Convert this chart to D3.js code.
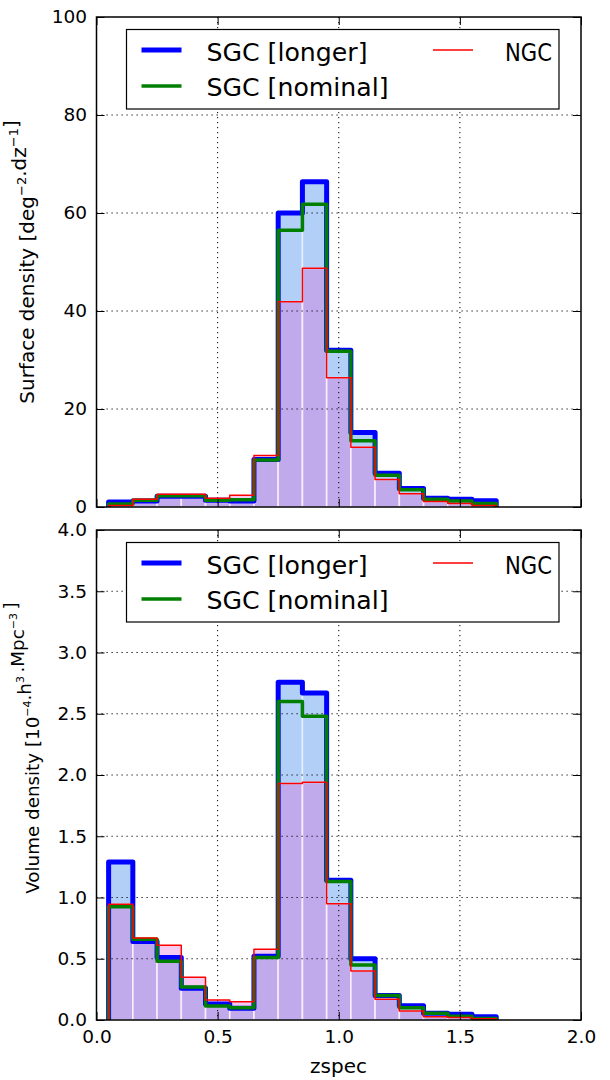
<!DOCTYPE html>
<html><head><meta charset="utf-8">
<script src="https://cdn.jsdelivr.net/npm/d3@7"></script>
<style>
body{margin:0;background:#fff}
svg{display:block}
text{font-family:"DejaVu Sans",sans-serif;fill:#000}
</style>
</head><body>
<svg id="c" width="610" height="1080"></svg>
<script>
// ---- data ----
const binEdges = [0.05,0.15,0.25,0.35,0.45,0.55,0.65,0.75,0.85,0.95,1.05,1.15,1.25,1.35,1.45,1.55,1.65];
const seriesNames = ["SGC [longer]","SGC [nominal]","NGC"];
const surfLonger  = [1.0,1.2,2.2,2.2,1.4,1.2,9.7,60.0,66.4,32.0,15.2,6.9,3.8,1.8,1.6,1.3];
const surfNominal = [0.6,1.4,2.3,2.3,1.4,1.5,9.6,56.5,61.8,31.8,13.5,6.5,3.5,1.6,1.2,0.7];
const surfNGC     = [0.3,1.6,2.6,2.6,1.8,2.4,10.5,41.9,48.7,26.4,12.2,5.6,2.7,1.1,0.7,0.3];
const volLonger   = [1.29,0.64,0.51,0.26,0.13,0.095,0.52,2.757,2.67,1.14,0.50,0.20,0.117,0.055,0.046,0.027];
const volNominal  = [0.925,0.66,0.48,0.27,0.115,0.10,0.51,2.60,2.48,1.13,0.45,0.20,0.10,0.055,0.03,0.012];
const volNGC      = [0.944,0.67,0.61,0.35,0.163,0.15,0.577,1.93,1.94,0.95,0.40,0.17,0.073,0.027,0.02,0.01];
const xTicks = [0,0.5,1.0,1.5,2.0];
const yTicksTop = [0,20,40,60,80,100];
const yTicksBot = [0,0.5,1.0,1.5,2.0,2.5,3.0,3.5,4.0];

const svg = d3.select("#c");
const X0 = 96.5, X1 = 581;
const x = d3.scaleLinear([0,2],[X0,X1]);

const colors = {longer:"#0000ff", nominal:"#007f00", ngc:"#ff0000"};

function panel(cfg){
  const y = d3.scaleLinear(cfg.ydom,[cfg.bottom,cfg.top]);
  const g = svg.append("g");
  const bins = binEdges.slice(0,-1).map((e,i)=>({x0:e,x1:binEdges[i+1],i}));
  // fills
  function fillHist(vals, color){
    g.append("g").selectAll("rect").data(bins).join("rect")
      .attr("x",d=>x(d.x0)).attr("width",d=>x(d.x1)-x(d.x0))
      .attr("y",d=>y(vals[d.i])).attr("height",d=>y(0)-y(vals[d.i]))
      .attr("fill",color)
      .attr("stroke","rgba(255,255,255,0.55)").attr("stroke-width",1.6);
  }
  fillHist(cfg.longer,"#b2cff7");
  fillHist(cfg.ngc,"rgba(222,95,212,0.33)");
  // grid
  const gg = g.append("g").attr("stroke","#000").attr("stroke-width",1).attr("stroke-dasharray","1.2,3.8");
  xTicks.slice(1,-1).forEach(t=>gg.append("line").attr("x1",x(t)).attr("x2",x(t)).attr("y1",cfg.top).attr("y2",cfg.bottom));
  cfg.yticks.slice(1,-1).forEach(t=>gg.append("line").attr("x1",X0).attr("x2",X1).attr("y1",y(t)).attr("y2",y(t)));
  // step lines
  function step(vals,color,w){
    const pts=[[x(binEdges[0]),y(0)]];
    vals.forEach((v,i)=>{pts.push([x(binEdges[i]),y(v)]);pts.push([x(binEdges[i+1]),y(v)]);});
    pts.push([x(binEdges[binEdges.length-1]),y(0)]);
    g.append("path").attr("d",d3.line()(pts)).attr("fill","none")
      .attr("stroke",color).attr("stroke-width",w).attr("stroke-linejoin","round").attr("stroke-linecap","butt");
  }
  step(cfg.longer,colors.longer,5);
  step(cfg.nominal,colors.nominal,3.5);
  step(cfg.ngc,colors.ngc,1.5);
  // axes with inward ticks
  const fmtX = d3.format(".1f");
  g.append("g").attr("transform",`translate(0,${cfg.bottom})`)
    .call(d3.axisBottom(x).tickValues(xTicks).tickSize(-8).tickPadding(10).tickFormat(cfg.showX?fmtX:""))
    .call(a=>{a.select(".domain").remove();a.selectAll("text").attr("font-size",18.5).attr("font-family","DejaVu Sans").attr("fill","#000");});
  g.append("g").attr("transform",`translate(0,${cfg.top})`)
    .call(d3.axisTop(x).tickValues(xTicks).tickSize(-8).tickFormat(""))
    .call(a=>a.select(".domain").remove());
  g.append("g").attr("transform",`translate(${X0},0)`)
    .call(d3.axisLeft(y).tickValues(cfg.yticks).tickSize(-8).tickPadding(9.5).tickFormat(cfg.fmtY))
    .call(a=>{a.select(".domain").remove();a.selectAll("text").attr("font-size",18.5).attr("font-family","DejaVu Sans").attr("fill","#000");});
  g.append("g").attr("transform",`translate(${X1},0)`)
    .call(d3.axisRight(y).tickValues(cfg.yticks).tickSize(-8).tickFormat(""))
    .call(a=>a.select(".domain").remove());
  g.selectAll(".tick line").attr("stroke","#000").attr("stroke-width",1);
  // frame
  g.append("rect").attr("x",X0).attr("y",cfg.top).attr("width",X1-X0).attr("height",cfg.bottom-cfg.top)
    .attr("fill","none").attr("stroke","#000").attr("stroke-width",1.5);
  // legend
  const ly = cfg.top;
  const lg = g.append("g");
  lg.append("rect").attr("x",126.5).attr("y",ly+12.5).attr("width",432.5).attr("height",79.5)
    .attr("fill","#fff").attr("stroke","#000").attr("stroke-width",1.2);
  const items=[
    {name:seriesNames[0],c:colors.longer,w:5,lx:141.5,tx:206.5,cy:ly+33,by:ly+44},
    {name:seriesNames[1],c:colors.nominal,w:3.5,lx:141.5,tx:206.5,cy:ly+69,by:ly+78.5},
    {name:seriesNames[2],c:colors.ngc,w:1.5,lx:433,tx:505,cy:ly+33,by:ly+44,len:47}
  ];
  items.forEach(it=>{
    lg.append("line").attr("x1",it.lx).attr("x2",it.lx+40).attr("y1",it.cy).attr("y2",it.cy)
      .attr("stroke",it.c).attr("stroke-width",it.w);
    const t = lg.append("text").attr("x",it.tx).attr("y",it.by).attr("font-size",25.2).text(it.name);
    if(it.len) t.attr("textLength",it.len).attr("lengthAdjust","spacingAndGlyphs");
  });
  return g;
}

panel({top:17,bottom:507,ydom:[0,100],yticks:yTicksTop,longer:surfLonger,nominal:surfNominal,ngc:surfNGC,showX:false,fmtY:d3.format("d")});
panel({top:530,bottom:1020,ydom:[0,4],yticks:yTicksBot,longer:volLonger,nominal:volNominal,ngc:volNGC,showX:true,fmtY:d3.format(".1f")});

// axis labels
function ylabel(xb,yc,fs,sup,parts){
  const t = svg.append("text").attr("transform",`translate(${xb},${yc}) rotate(-90)`)
    .attr("text-anchor","middle").attr("font-size",fs);
  parts.forEach(p=>{
    if(p.sup){
      t.append("tspan").attr("dy",-fs*0.4).attr("font-size",fs*sup).text(p.s);
      t.append("tspan").attr("dy",fs*0.4).text("");
    } else t.append("tspan").text(p.s);
  });
}
ylabel(34,262,20,0.65,[{s:"Surface density [deg"},{s:"\u22122",sup:1},{s:".dz"},{s:"\u22121",sup:1},{s:"]"}]);
ylabel(38.5,748,18.3,0.6,[{s:"Volume density [10"},{s:"\u22124",sup:1},{s:".h"},{s:"3",sup:1},{s:"\u2009.Mpc"},{s:"\u22123",sup:1},{s:"\u2009]"}]);
svg.append("text").attr("x",338.5).attr("y",1073).attr("text-anchor","middle").attr("font-size",20).text("zspec");
</script>
</body></html>
